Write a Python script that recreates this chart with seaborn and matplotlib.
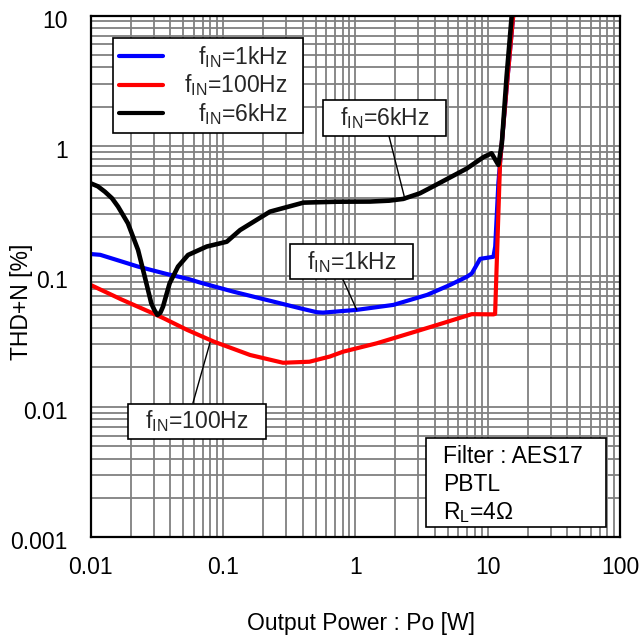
import numpy as np
import pandas as pd
import matplotlib
matplotlib.use("Agg")
import matplotlib.pyplot as plt
import matplotlib.transforms as mtransforms
from matplotlib.ticker import FixedLocator, FixedFormatter, LogLocator, NullFormatter
from matplotlib.patches import Rectangle
import seaborn as sns

# ---- measured THD+N curves (output power in W, THD+N in %) ----
series_labels = [r"f$_{\mathrm{IN}}$=1kHz", r"f$_{\mathrm{IN}}$=100Hz", r"f$_{\mathrm{IN}}$=6kHz"]
series_colors = ["#0000FF", "#FF0000", "#000000"]

power_1k = [0.01, 0.0118, 0.0228, 0.0376, 0.0544, 0.067, 0.1195, 0.214, 0.38, 0.51,
            0.57, 1.02, 1.94, 3.49, 5.2, 6.99, 7.58, 8.77, 11.05, 11.4, 12.05,
            12.4, 14.0, 15.6, 16.5]
thd_1k = [0.148, 0.146, 0.1186, 0.104, 0.0955, 0.0895, 0.0762, 0.0658, 0.0569, 0.053,
          0.0526, 0.0552, 0.0603, 0.072, 0.0858, 0.0993, 0.105, 0.136, 0.141, 0.169, 0.52,
          0.74, 3.0, 10.0, 15.0]

power_100 = [0.01, 0.017, 0.0305, 0.0362, 0.0532, 0.0847, 0.16, 0.284, 0.45, 0.64,
             0.81, 1.45, 2.6, 4.6, 7.58, 11.05, 11.38, 11.88, 12.4, 14.0, 15.6, 16.5]
thd_100 = [0.0857, 0.0665, 0.0512, 0.0472, 0.0389, 0.0316, 0.0249, 0.0217, 0.0221, 0.0242,
           0.0264, 0.0306, 0.0366, 0.0437, 0.0512, 0.051, 0.0514, 0.197, 0.74, 3.0, 10.0, 15.0]

power_6k = [0.01, 0.0113, 0.0128, 0.0145, 0.0161, 0.0191, 0.0228, 0.0256, 0.0287, 0.0303,
            0.0319, 0.0336, 0.0352, 0.0395, 0.0457, 0.0544, 0.0753, 0.1067, 0.1345, 0.2265,
            0.405, 0.723, 1.29, 1.8, 2.3, 3.08, 3.89, 6.95, 9.3, 10.7, 12.05, 12.8, 13.9,
            15.2, 16.0]
thd_6k = [0.516, 0.49, 0.445, 0.396, 0.342, 0.255, 0.159, 0.0994, 0.062, 0.055,
          0.0505, 0.0525, 0.0585, 0.0883, 0.1186, 0.1456, 0.169, 0.184, 0.226, 0.313,
          0.367, 0.373, 0.374, 0.38, 0.392, 0.433, 0.49, 0.67, 0.82, 0.877, 0.714, 1.05, 3.4,
          10.0, 13.0]

x_ticks = [0.01, 0.1, 1, 10, 100]
x_tick_labels = ["0.01", "0.1", "1", "10", "100"]
y_ticks = [0.001, 0.01, 0.1, 1, 10]
y_tick_labels = ["0.001", "0.01", "0.1", "1", "10"]

# ---- style ----
sns.set_theme(style="white")
plt.rcParams["font.family"] = ["Liberation Sans", "DejaVu Sans"]
plt.rcParams["mathtext.fontset"] = "custom"
plt.rcParams["mathtext.rm"] = "Liberation Sans"
plt.rcParams["mathtext.it"] = "Liberation Sans:italic"
plt.rcParams["mathtext.bf"] = "Liberation Sans:bold"
FS = 16.5

df = pd.concat([
    pd.DataFrame({"Po": power_1k, "THD": thd_1k, "series": series_labels[0]}),
    pd.DataFrame({"Po": power_100, "THD": thd_100, "series": series_labels[1]}),
    pd.DataFrame({"Po": power_6k, "THD": thd_6k, "series": series_labels[2]}),
], ignore_index=True)

W, H = 643, 637
fig = plt.figure(figsize=(W / 100, H / 100), dpi=100)
ax = fig.add_axes([90.7 / W, 1 - 537 / H, 529.3 / W, 521.5 / H])

sns.lineplot(data=df, x="Po", y="THD", hue="series", hue_order=series_labels,
             palette=series_colors, estimator=None, linewidth=3.0, ax=ax, legend=False,
             solid_joinstyle="round", solid_capstyle="round")
ax.lines[2].set_linewidth(3.3)

ax.set_xscale("log")
ax.set_yscale("log")
ax.set_xlim(0.01, 100)
ax.set_ylim(0.001, 10)

ax.xaxis.set_major_locator(FixedLocator(x_ticks))
ax.xaxis.set_major_formatter(FixedFormatter(x_tick_labels))
ax.yaxis.set_major_locator(FixedLocator(y_ticks))
ax.yaxis.set_major_formatter(FixedFormatter(y_tick_labels))
for axis in (ax.xaxis, ax.yaxis):
    axis.set_minor_locator(LogLocator(base=10, subs=np.arange(2, 10), numticks=20))
    axis.set_minor_formatter(NullFormatter())

ax.grid(True, which="both", color="#808080", linewidth=1.3)
ax.set_axisbelow(True)
ax.tick_params(which="both", length=0)
ax.tick_params(axis="x", pad=14, labelsize=FS, labelcolor="black")
ax.tick_params(axis="y", pad=16.5, labelsize=FS, labelcolor="black")
for s in ax.spines.values():
    s.set_color("black")
    s.set_linewidth(1.6)

# y tick labels sit a little below their grid lines
for tick in ax.yaxis.get_major_ticks():
    tick.label1.set_transform(tick.label1.get_transform()
                              + mtransforms.ScaledTranslation(0, -3 / 100, fig.dpi_scale_trans))

ax.set_xlabel("Output Power : Po [W]", fontsize=FS, color="black")
ax.xaxis.set_label_coords(0.511, -0.143)
ax.set_ylabel("THD+N [%]", fontsize=FS, color="black")
ax.yaxis.set_label_coords(-0.109, 0.4516)

# ---- legend (fixed-width frame, labels right-aligned below) ----
leg = ax.legend(ax.lines[:3], series_labels, loc="upper left",
                bbox_to_anchor=(0.042, 0.5, 0.359, 0.457), mode="expand",
                borderaxespad=0, frameon=True, fancybox=False,
                edgecolor="black", framealpha=1, fontsize=FS, handlelength=1.9,
                handletextpad=0.9, labelspacing=0.1, borderpad=0.28)
leg.get_frame().set_linewidth(1.2)
for h in leg.legend_handles:
    h.set_linewidth(3.0)

# ---- callouts ----
box_kw = dict(boxstyle="square,pad=0.75", mutation_aspect=0.28, fc="white", ec="black", lw=1.2)
callouts = [
    (series_labels[2], (2.375, 0.387), (0.555, 0.8035), (0.536, 0)),
    (series_labels[0], (1.025, 0.0552), (0.4927, 0.528), (0.38, 0)),
    (series_labels[1], (0.0798, 0.031), (0.200, 0.2215), (0.45, 1)),
]
for text, xy, xytext, rel in callouts:
    ax.annotate(text, xy=xy, xycoords="data", xytext=xytext, textcoords="axes fraction",
                ha="center", va="center", fontsize=FS, bbox=box_kw, zorder=6,
                arrowprops=dict(arrowstyle="-", color="black", lw=1.0,
                                shrinkA=0, shrinkB=0, relpos=rel))

# ---- conditions box ----
ax.add_patch(Rectangle((0.6335, 0.0192), 0.3401, 0.1706, transform=ax.transAxes,
                       fc="white", ec="black", lw=1.2, zorder=6))
for txt, yb in [("Filter : AES17", 0.1413), ("PBTL", 0.0888), (r"R$_{\mathrm{L}}$=4Ω", 0.0345)]:
    ax.text(0.6656, yb, txt, transform=ax.transAxes, ha="left", va="baseline",
            fontsize=FS, color="black", zorder=7)

# right-align legend labels
fig.canvas.draw()
renderer = fig.canvas.get_renderer()
widths = [t.get_window_extent(renderer).width for t in leg.get_texts()]
wmax = max(widths)
for t, w in zip(leg.get_texts(), widths):
    t.set_x(wmax - w)

fig.savefig("out.png", dpi=100)
